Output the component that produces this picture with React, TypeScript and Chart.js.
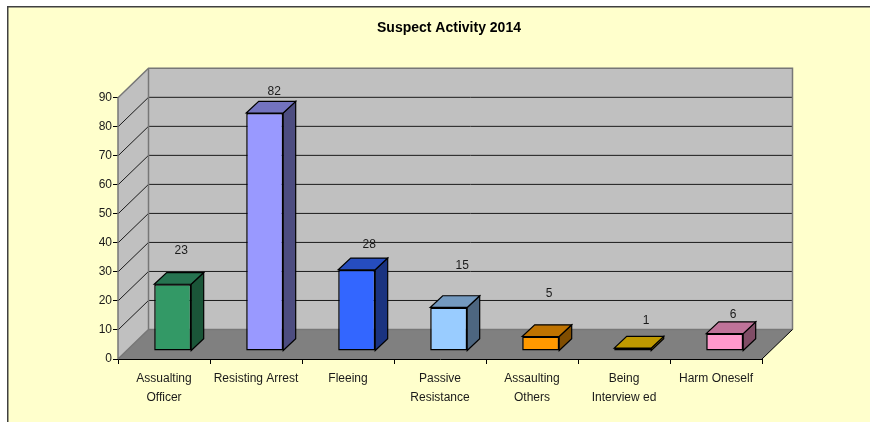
import { useEffect, useRef } from "react";
import { Chart, registerables } from "chart.js";

Chart.register(...registerables);

const categories = [
  ["Assualting", "Officer"],
  "Resisting Arrest",
  "Fleeing",
  ["Passive", "Resistance"],
  ["Assaulting", "Others"],
  ["Being", "Interview ed"],
  "Harm Oneself",
];
const incidents = [23, 82, 28, 15, 5, 1, 6];
const faceColors = ["#339966", "#9999FF", "#3366FF", "#99CCFF", "#FF9900", "#FFCC00", "#FF99CC"];
const topColors = ["#267350", "#7373BF", "#264DBF", "#7399BF", "#BF7300", "#BF9900", "#BF7399"];
const sideColors = ["#1A5538", "#4D4D80", "#1A3380", "#4D6680", "#804D00", "#806600", "#804D66"];
const labelLift = [34, 21, 25, 42, 43, 27, 19];
const labelShift = [-4, -3, 0, 1, -4, 1, -4];

const floorOffset = { x: 8.7, y: 8 };
const barDepth = { x: 12.5, y: 11.7 };
const wallDepth = { x: 30.5, y: 29.5 };

const poly = (ctx: CanvasRenderingContext2D, pts: number[][], fill: string, stroke?: string, lw = 1) => {
  ctx.beginPath();
  pts.forEach((p, i) => (i ? ctx.lineTo(p[0], p[1]) : ctx.moveTo(p[0], p[1])));
  ctx.closePath();
  if (fill) {
    ctx.fillStyle = fill;
    ctx.fill();
  }
  if (stroke) {
    ctx.strokeStyle = stroke;
    ctx.lineWidth = lw;
    ctx.stroke();
  }
};

const scene3d = {
  id: "scene3d",
  afterLayout(chart: any) {
    chart.titleBlock.left = 28;
    chart.titleBlock.right = 870;
  },
  beforeDraw(chart: any) {
    const { ctx, width, height } = chart;
    ctx.save();
    ctx.fillStyle = "#FFFFFF";
    ctx.fillRect(0, 0, width, height);
    ctx.fillStyle = "#FFFFCC";
    ctx.fillRect(8, 7, width - 8, height - 7);
    ctx.fillStyle = "#404040";
    ctx.fillRect(7, 6, width - 7, 1.5);
    ctx.fillRect(7, 6, 1.5, height - 6);
    ctx.restore();
  },
  beforeDatasetsDraw(chart: any) {
    const { ctx, chartArea } = chart;
    const { left, right, bottom } = chartArea;
    const y = chart.scales.y;
    const topV = y.getPixelForValue(90);
    const d = wallDepth;
    ctx.save();
    poly(ctx, [[left + d.x, topV - d.y], [right + d.x, topV - d.y], [right + d.x, bottom - d.y], [left + d.x, bottom - d.y]], "#C0C0C0");
    poly(ctx, [[left, topV], [left + d.x, topV - d.y], [left + d.x, bottom - d.y], [left, bottom]], "#C0C0C0");
    poly(ctx, [[left, bottom], [right, bottom], [right + d.x, bottom - d.y], [left + d.x, bottom - d.y]], "#808080");
    ctx.lineWidth = 1;
    y.ticks.forEach((t: any) => {
      const py = y.getPixelForValue(t.value);
      if (t.value > 0 && t.value < 90) {
        ctx.strokeStyle = "#1A1A1A";
        ctx.beginPath();
        ctx.moveTo(left + d.x, py - d.y);
        ctx.lineTo(right + d.x, py - d.y);
        ctx.stroke();
        ctx.beginPath();
        ctx.moveTo(left, py);
        ctx.lineTo(left + d.x, py - d.y);
        ctx.stroke();
      }
    });
    ctx.strokeStyle = "#777777";
    ctx.lineWidth = 1.5;
    ctx.beginPath();
    ctx.moveTo(left, bottom);
    ctx.lineTo(left, topV);
    ctx.lineTo(left + d.x, topV - d.y);
    ctx.lineTo(right + d.x, topV - d.y);
    ctx.lineTo(right + d.x, bottom - d.y);
    ctx.moveTo(left + d.x, topV - d.y);
    ctx.lineTo(left + d.x, bottom - d.y);
    ctx.lineTo(right + d.x, bottom - d.y);
    ctx.moveTo(left + d.x, bottom - d.y);
    ctx.lineTo(left, bottom);
    ctx.stroke();
    ctx.strokeStyle = "#000000";
    ctx.lineWidth = 1;
    ctx.beginPath();
    ctx.moveTo(right, bottom);
    ctx.lineTo(right + d.x, bottom - d.y);
    ctx.stroke();

    const meta = chart.getDatasetMeta(0);
    meta.data.forEach((bar: any, i: number) => {
      const { x, y: top, base, width: w } = bar.getProps(["x", "y", "base", "width"]);
      const l = x - w / 2 + floorOffset.x;
      const r = x + w / 2 + floorOffset.x;
      const t = top - floorOffset.y;
      const b = base - floorOffset.y;
      const dx = barDepth.x;
      const dy = barDepth.y;
      poly(ctx, [[r, t], [r + dx, t - dy], [r + dx, b - dy], [r, b]], sideColors[i], "#000000", 1.2);
      poly(ctx, [[l, t], [l + dx, t - dy], [r + dx, t - dy], [r, t]], topColors[i], "#000000", 1.2);
    });
    ctx.restore();
    ctx.save();
    ctx.translate(floorOffset.x, -floorOffset.y);
  },
  afterDatasetsDraw(chart: any) {
    const { ctx } = chart;
    ctx.restore();
    ctx.save();
    ctx.fillStyle = "#1A1A1A";
    ctx.font = "12px 'Liberation Sans'";
    ctx.textAlign = "center";
    ctx.textBaseline = "middle";
    const meta = chart.getDatasetMeta(0);
    meta.data.forEach((bar: any, i: number) => {
      const { x, y: top } = bar.getProps(["x", "y"]);
      ctx.fillText(
        String(incidents[i]),
        x + floorOffset.x + barDepth.x + labelShift[i],
        top - floorOffset.y - labelLift[i]
      );
    });
    ctx.restore();
  },
};

export default function App() {
  const ref = useRef<HTMLCanvasElement>(null);
  useEffect(() => {
    document.body.style.margin = "0";
    const chart = new Chart(ref.current as HTMLCanvasElement, {
      type: "bar",
      data: {
        labels: categories,
        datasets: [
          {
            label: "Suspect Activity 2014",
            data: incidents,
            backgroundColor: faceColors,
            borderColor: "#000000",
            borderWidth: 1.5,
            borderSkipped: false,
            barPercentage: 0.402,
            categoryPercentage: 1,
            clip: false,
          },
        ],
      },
      options: {
        animation: false,
        responsive: false,
        layout: { padding: { left: 88, right: 108, top: 20, bottom: 0 } },
        plugins: {
          legend: { display: false },
          tooltip: { enabled: false },
          title: {
            display: true,
            text: "Suspect Activity 2014",
            color: "#000000",
            font: { family: "'Liberation Sans'", size: 14, weight: "bold" },
            padding: { top: 0, bottom: 61 },
          },
        },
        scales: {
          x: {
            offset: true,
            grid: { drawOnChartArea: false, drawTicks: true, tickLength: 5, color: "#000000" },
            border: { color: "#000000", width: 1 },
            ticks: {
              color: "#1A1A1A",
              maxRotation: 0,
              autoSkip: false,
              padding: 5,
              font: { family: "'Liberation Sans'", size: 12, lineHeight: 1.58 },
            },
            afterFit(scale: any) {
              scale.height = 63;
            },
          },
          y: {
            min: 0,
            max: 90,
            grid: { drawOnChartArea: false, drawTicks: true, tickLength: 5, color: "#000000" },
            border: { display: false },
            ticks: {
              stepSize: 10,
              color: "#1A1A1A",
              padding: 1,
              font: { family: "'Liberation Sans'", size: 12 },
            },
            afterFit(scale: any) {
              scale.width = 30;
            },
          },
        },
      },
      plugins: [scene3d],
    } as any);
    return () => chart.destroy();
  }, []);
  return <canvas ref={ref} width={870} height={422} style={{ display: "block" }} />;
}
